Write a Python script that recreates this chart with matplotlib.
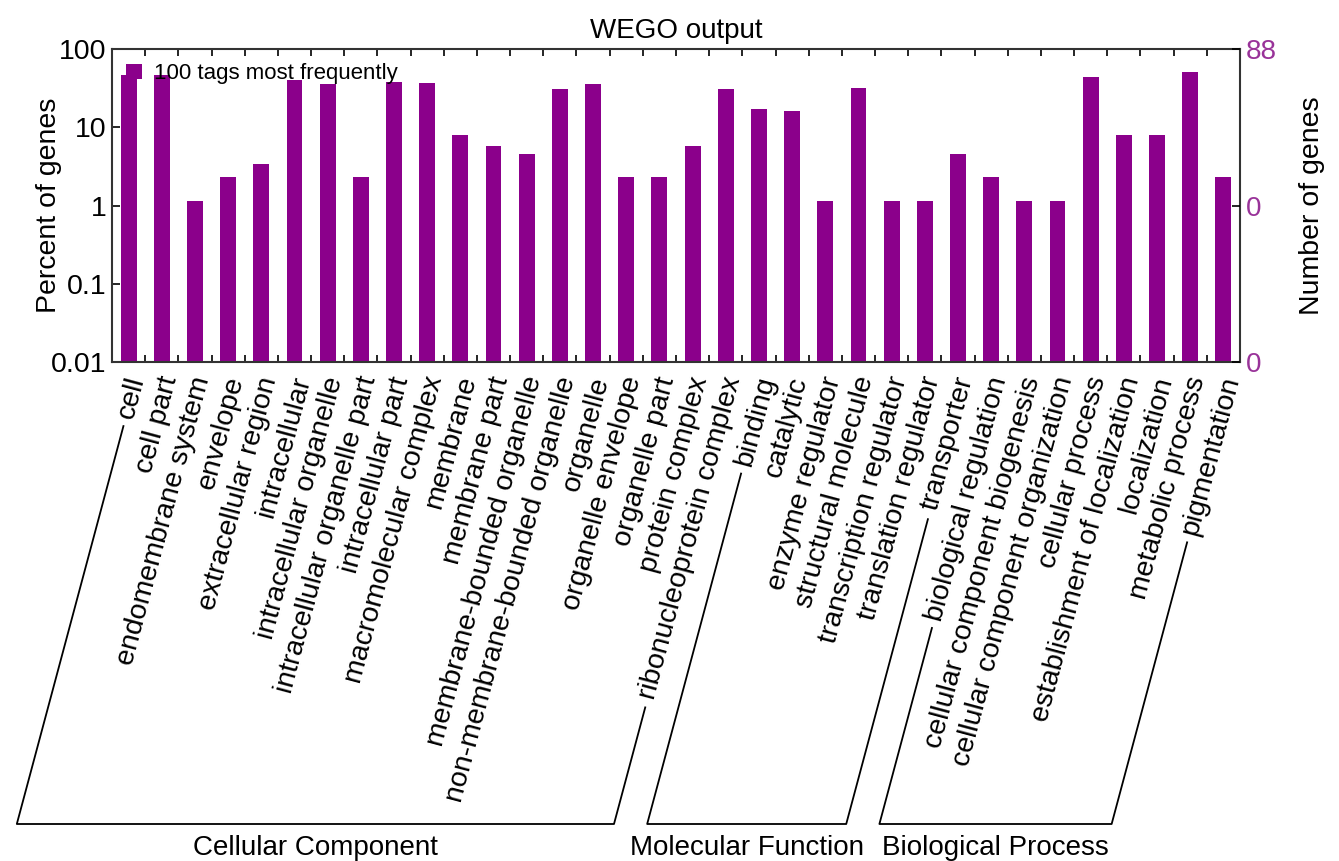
import numpy as np
import matplotlib
matplotlib.use("Agg")
import matplotlib.pyplot as plt
import matplotlib.transforms as mtransforms
from matplotlib.lines import Line2D
from matplotlib.textpath import TextPath
from matplotlib.font_manager import FontProperties
from matplotlib.ticker import NullLocator

plt.rcParams['font.family'] = ['Liberation Sans', 'DejaVu Sans']

# GO terms, in plot order
terms = [
    "cell", "cell part", "endomembrane system", "envelope", "extracellular region",
    "intracellular", "intracellular organelle", "intracellular organelle part",
    "intracellular part", "macromolecular complex", "membrane", "membrane part",
    "membrane-bounded organelle", "non-membrane-bounded organelle", "organelle",
    "organelle envelope", "organelle part", "protein complex",
    "ribonucleoprotein complex",
    "binding", "catalytic", "enzyme regulator", "structural molecule",
    "transcription regulator", "translation regulator", "transporter",
    "biological regulation", "cellular component biogenesis",
    "cellular component organization", "cellular process",
    "establishment of localization", "localization", "metabolic process",
    "pigmentation",
]
# number of genes per term (out of 88)
gene_counts = [41, 41, 1, 2, 3, 35, 31, 2, 33, 32, 7, 5, 4, 27, 31, 2, 2, 5, 27,
               15, 14, 1, 28, 1, 1, 4,
               2, 1, 1, 39, 7, 7, 45, 2]
total_genes = 88
group_names = ["Cellular Component", "Molecular Function", "Biological Process"]
group_sizes = [19, 7, 8]

bar_color = "#8B008B"
right_color = "#993399"
percent = np.array(gene_counts) / total_genes * 100

W, H, DPI = 1339, 861, 100
fig = plt.figure(figsize=(W / DPI, H / DPI), dpi=DPI)
ax = fig.add_axes([112 / W, 1 - 362 / H, (1240 - 112) / W, (362 - 49) / H])

x = np.arange(len(terms))
bars = ax.bar(x, percent, width=0.48, color=bar_color, bottom=0.01,
              label="100 tags most frequently")
ax.set_yscale("log")
ax.set_ylim(0.01, 100)
ax.set_xlim(-0.5, len(terms) - 0.5)

ax.set_yticks([0.01, 0.1, 1, 10, 100])
ax.set_yticklabels(["0.01", "0.1", "1", "10", "100"])
ax.yaxis.set_minor_locator(NullLocator())
ax.set_xticks(np.arange(0.5, len(terms) - 1, 1))
ax.set_xticklabels([])
ax.tick_params(axis="x", direction="in", top=True, bottom=True, length=5, width=1.2)
ax.tick_params(axis="y", direction="in", length=6, width=1.2, labelsize=20.5, pad=4)
ax.set_ylabel("Percent of genes", fontsize=20.5, labelpad=-8)
ax.set_title("WEGO output", fontsize=20, pad=8)
for sp in ax.spines.values():
    sp.set_linewidth(1.5)
    sp.set_color("#333333")

ax2 = ax.twinx()
ax2.set_yscale("log")
ax2.set_ylim(0.01, 100)
ax2.set_yticks([0.01, 1, 100])
ax2.set_yticklabels(["0", "0", str(total_genes)])
ax2.yaxis.set_minor_locator(NullLocator())
ax2.tick_params(axis="y", direction="in", length=6, width=1.2, labelsize=20,
                labelcolor=right_color, pad=4)
ax2.set_ylabel("Number of genes", fontsize=20.5, labelpad=16)
for sp in ax2.spines.values():
    sp.set_visible(False)

ax.legend(loc="upper left", frameon=False, fontsize=16, handlelength=0.7,
          handleheight=0.7, handletextpad=0.55, borderaxespad=0.35, borderpad=0.3)

# rotated category labels, end anchored just below each bar
ang = 75
c, s = np.cos(np.radians(ang)), np.sin(np.radians(ang))
label_fs = 20.5
label_tr = mtransforms.offset_copy(ax.get_xaxis_transform(), fig=fig,
                                   x=8, y=-15, units="dots")
for i, t in enumerate(terms):
    ax.text(i, 0, t, transform=label_tr, rotation=ang, ha="right", va="center",
            rotation_mode="anchor", fontsize=label_fs, clip_on=False)

# group brackets
fp = FontProperties(family=["Liberation Sans"], size=label_fs)
y_base = H - 824
gap = 10


def line_foot(i):
    # extend the label direction from its start down to the base line
    ax_pt = label_tr.transform((i, 0))
    L = TextPath((0, 0), terms[i], size=label_fs, prop=fp).get_extents().x1 * DPI / 72
    sx = ax_pt[0] - (L + gap) * c
    sy = ax_pt[1] - (L + gap) * s
    fx = sx - (sy - y_base) / np.tan(np.radians(ang))
    return (sx, sy), (fx, y_base)


inv = fig.transFigure.inverted()
start = 0
for name, n in zip(group_names, group_sizes):
    first, last = start, start + n - 1
    a0, a1 = line_foot(first)
    b0, b1 = line_foot(last)
    pts = inv.transform([a0, a1, b1, b0])
    fig.add_artist(Line2D(pts[:, 0], pts[:, 1], color="black", lw=1.3))
    cx = inv.transform([((a1[0] + b1[0]) / 2, y_base - 24)])[0]
    fig.text(cx[0], cx[1], name, ha="center", va="center", fontsize=20)
    start += n

fig.savefig("out.png", dpi=DPI)
